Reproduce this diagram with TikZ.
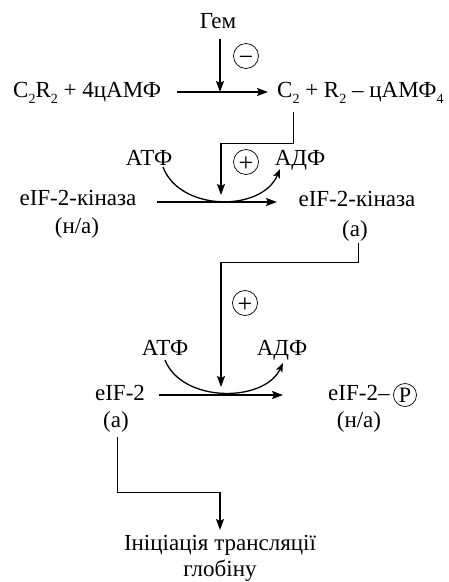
\documentclass[tikz,border=0pt]{standalone}
\usepackage{fontspec}
\setmainfont{Liberation Serif}
\usetikzlibrary{arrows.meta}
\newcommand{\lowsub}[1]{\raisebox{-6.5pt}{\fontsize{14}{14}\selectfont #1}}
\begin{document}
\begin{tikzpicture}[x=1pt,y=-1pt,
  txt/.style={inner sep=0pt, font=\fontsize{23}{27}\selectfont},
  arr/.style={line width=1.6pt, -{Stealth[length=11pt,width=8pt,inset=2pt]}},
  conn/.style={line width=0.8pt},
  curv/.style={line width=1.3pt, -{Stealth[length=9pt,width=7pt,inset=2pt]}},
  sign/.style={draw, circle, line width=0.7pt, minimum size=25pt, inner sep=0pt},
  signtxt/.style={inner sep=0pt, anchor=base, yshift=-9.5pt, font=\fontsize{26}{26}\selectfont},
  pball/.style={draw, circle, line width=0.7pt, minimum size=23pt, inner sep=0pt, font=\fontsize{22}{22}\selectfont}
]
\useasboundingbox (0,0) rectangle (448,582);
% --- top reaction
\node[txt,anchor=base] (gem) at (218,28) {Гем};
\node[txt,anchor=base west] (s1) at (13,97) {C\lowsub{2}R\lowsub{2} + 4цАМФ};
\node[txt,anchor=base west] (p1) at (277,97) {C\lowsub{2} + R\lowsub{2} – цАМФ\lowsub{4}};
\node[sign] (minus) at (246,56) {};
\node[signtxt] (minustxt) at (minus.center) {−};
\coordinate (gemtop) at (220,39);
\coordinate (m1) at (220,92);
\coordinate (a1s) at (177,92);
\coordinate (a1e) at (268,92);
\draw[arr] (a1s) -- (a1e);
\draw[arr] (gemtop) -- (m1);
% --- connector 1
\coordinate (c1a) at (293,112);
\coordinate (c1b) at (293,143);
\coordinate (c1c) at (221,143);
\coordinate (c1d) at (221,195);
\draw[conn] (c1a) -- (c1b) -- (c1c);
\draw[arr] (c1c) -- (c1d);
\node[sign] (plus1) at (246,162) {};
\node[signtxt] (plus1txt) at (plus1.center) {+};
% --- second reaction
\node[txt,anchor=base] (atp1) at (149,165) {АТФ};
\node[txt,anchor=base] (adp1) at (300,165) {АДФ};
\node[txt,anchor=base] (k1) at (78,205) {eIF-2-кіназа};
\node[txt,anchor=base] (k1s) at (77,233) {(н/а)};
\node[txt,anchor=base] (k2) at (357,206) {eIF-2-кіназа};
\node[txt,anchor=base] (k2s) at (355,236) {(а)};
\coordinate (a2s) at (157,202);
\coordinate (a2e) at (277,202);
\draw[arr] (a2s) -- (a2e);
\coordinate (cu1s) at (163,167);
\coordinate (cu1e) at (280,169);
\draw[curv] (cu1s) .. controls (180,212) and (262,212) .. (cu1e);
% --- connector 2
\coordinate (c2a) at (358,243);
\coordinate (c2b) at (358,262);
\coordinate (c2c) at (221,262);
\coordinate (c2d) at (221,387);
\draw[conn] (c2a) -- (c2b) -- (c2c);
\draw[arr] (c2c) -- (c2d);
\node[sign] (plus2) at (245,303) {};
\node[signtxt] (plus2txt) at (plus2.center) {+};
% --- third reaction
\node[txt,anchor=base] (atp2) at (165,355) {АТФ};
\node[txt,anchor=base] (adp2) at (282,355) {АДФ};
\node[txt,anchor=base] (e1) at (120,400) {eIF-2};
\node[txt,anchor=base] (e1s) at (116,427) {(а)};
\node[txt,anchor=base west] (e2) at (328,400) {eIF-2–};
\node[pball] (pcirc) at (405,395) {P};
\node[txt,anchor=base] (e2s) at (359,427) {(н/а)};
\coordinate (a3s) at (159,395);
\coordinate (a3e) at (283,395);
\draw[arr] (a3s) -- (a3e);
\coordinate (cu2s) at (165,360);
\coordinate (cu2e) at (283,363);
\draw[curv] (cu2s) .. controls (182,403) and (264,403) .. (cu2e);
% --- connector 3
\coordinate (c3a) at (117,437);
\coordinate (c3b) at (117,492);
\coordinate (c3c) at (220,492);
\coordinate (c3d) at (220,530);
\draw[conn] (c3a) -- (c3b) -- (c3c);
\draw[arr] (c3c) -- (c3d);
\node[txt,anchor=base] (init1) at (220,550) {Ініціація трансляції};
\node[txt,anchor=base] (init2) at (220,576) {глобіну};
\end{tikzpicture}
\end{document}
